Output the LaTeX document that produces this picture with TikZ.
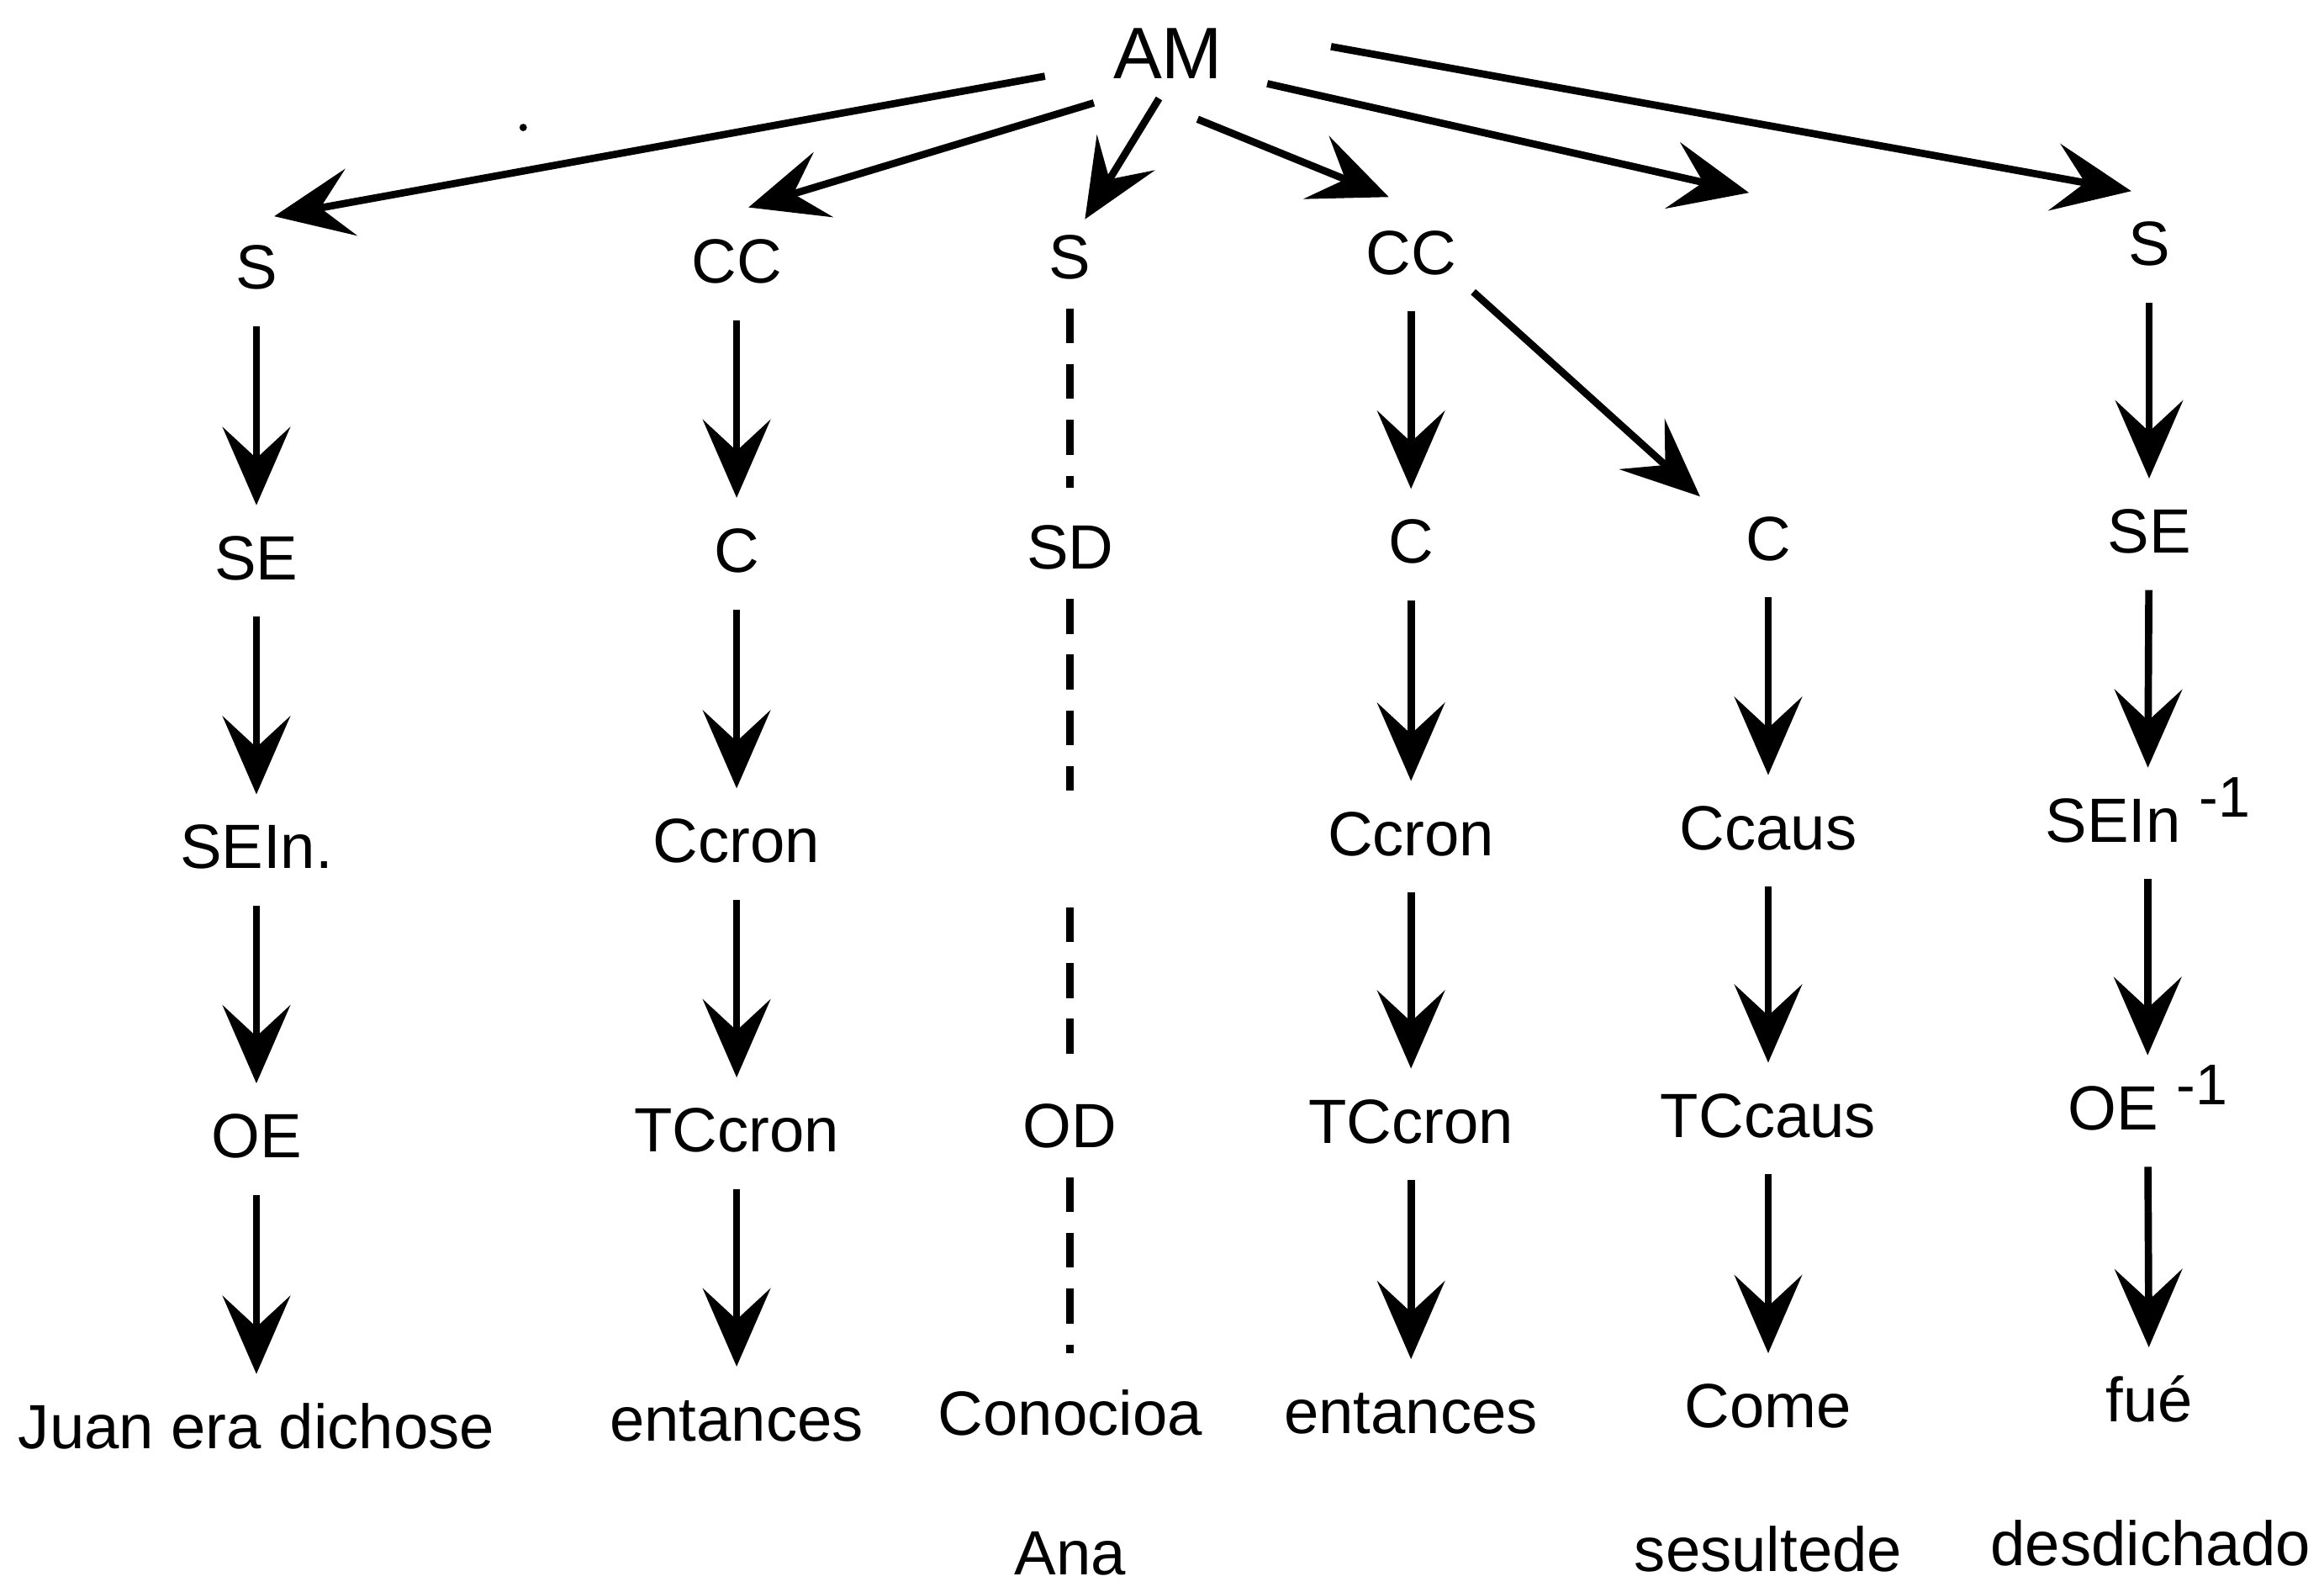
\documentclass[tikz,border=0pt]{standalone}
\usepackage{fontspec}
\setmainfont{Liberation Sans}
\usetikzlibrary{arrows.meta,calc}

\newcommand{\invsup}{\hspace{3.5pt}\raisebox{4.8pt}{\fontsize{11}{11}\selectfont -1}}

\tikzset{
  lbl/.style={anchor=base, inner sep=0pt, outer sep=0pt, text height=8.6pt, text depth=0pt, font=\fontsize{12}{14}\selectfont},
  arr/.style={-{Stealth[length=15pt,width=13pt,inset=6pt]}, line width=1.4pt},
  downarr/.style={arr, shorten <=0.25cm, shorten >=0.2cm},
  dashln/.style={line width=1.5pt, dash pattern=on 6.7pt off 4pt, shorten <=0.2cm, shorten >=0.25cm}
}

\begin{document}
\begin{tikzpicture}
    \useasboundingbox (0,0) rectangle (15.68,10.70);
    % Root
    \node[lbl, font=\fontsize{14}{16}\selectfont, text height=10pt] (am) at (7.88,10.17) {AM};
    \fill (3.53,9.84) circle (0.025);

    % Column 1
    \node[lbl] (s1) at (1.73,8.75) {S};
    \node[lbl] (se1) at (1.73,6.79) {SE};
    \node[lbl] (sein1) at (1.73,4.84) {SEIn.};
    \node[lbl] (oe1) at (1.73,2.89) {OE};
    \node[lbl] (juan) at (1.73,0.93) {Juan era dichose};
    \draw[downarr] (s1) -- (se1);
    \draw[downarr] (se1) -- (sein1);
    \draw[downarr] (sein1) -- (oe1);
    \draw[downarr] (oe1) -- (juan);

    % Column 2
    \node[lbl] (cc1) at (4.97,8.79) {CC};
    \node[lbl] (c1) at (4.97,6.84) {C};
    \node[lbl] (ccron1) at (4.97,4.88) {Ccron};
    \node[lbl] (tccron1) at (4.97,2.93) {TCcron};
    \node[lbl] (ent1) at (4.97,0.98) {entances};
    \draw[downarr] (cc1) -- (c1);
    \draw[downarr] (c1) -- (ccron1);
    \draw[downarr] (ccron1) -- (tccron1);
    \draw[downarr] (tccron1) -- (ent1);

    % Column 3 (dashed)
    \node[lbl] (s3) at (7.22,8.82) {S};
    \node[lbl] (sd) at (7.22,6.86) {SD};
    \node[lbl] (od) at (7.22,2.96) {OD};
    \node[lbl] (conoc) at (7.22,1.02) {Conocioa};
    \node[lbl] (ana) at (7.22,0.08) {Ana};
    \coordinate (sdend) at (7.22,5.37);
    \coordinate (odtop) at (7.22,4.58);
    \draw[dashln] (s3) -- (sd);
    \draw[dashln, shorten >=0pt] (sd) -- (sdend);
    \draw[dashln, shorten <=0pt] (odtop) -- (od);
    \draw[dashln] (od) -- (conoc);

    % Column 4
    \node[lbl] (cc2) at (9.52,8.85) {CC};
    \node[lbl] (c2) at (9.52,6.90) {C};
    \node[lbl] (ccron2) at (9.52,4.93) {Ccron};
    \node[lbl] (tccron2) at (9.52,2.99) {TCcron};
    \node[lbl] (ent2) at (9.52,1.03) {entances};
    \draw[downarr] (cc2) -- (c2);
    \draw[downarr] (c2) -- (ccron2);
    \draw[downarr] (ccron2) -- (tccron2);
    \draw[downarr] (tccron2) -- (ent2);

    % Column 5
    \node[lbl] (c3) at (11.93,6.92) {C};
    \node[lbl] (ccaus) at (11.93,4.97) {Ccaus};
    \node[lbl] (tccaus) at (11.93,3.03) {TCcaus};
    \node[lbl] (come) at (11.93,1.07) {Come};
    \node[lbl] (sesul) at (11.93,0.10) {sesultede};
    \draw[downarr] (c3) -- (ccaus);
    \draw[downarr] (ccaus) -- (tccaus);
    \draw[downarr] (tccaus) -- (come);
    \draw[arr] ($(cc2)+(0.42,-0.27)$) -- ($(c3)+(-0.46,0.28)$);

    % Column 6
    \node[lbl] (s6) at (14.50,8.91) {S};
    \node[lbl] (se6) at (14.50,6.97) {SE};
    \node[lbl] (sein6) at (14.49,5.02) {SEIn\invsup};
    \node[lbl] (oe6) at (14.49,3.08) {OE\invsup};
    \node[lbl] (fue) at (14.50,1.11) {fué};
    \node[lbl] (desd) at (14.51,0.14) {desdichado};
    \draw[downarr] (s6) -- (se6);
    \draw[downarr] (se6) -- (sein6);
    \draw[downarr] (sein6) -- (oe6);
    \draw[downarr] (oe6) -- (fue);

    % Arrows from the root
    \coordinate (cend) at (11.80,9.40);
    \draw[arr] ($(am)+(-0.83,-0.16)$) -- ($(s1)+(0.12,0.34)$);
    \draw[arr] ($(am)+(-0.50,-0.34)$) -- ($(cc1)+(0.08,0.36)$);
    \draw[arr] ($(am)+(-0.06,-0.31)$) -- ($(s3)+(0.10,0.25)$);
    \draw[arr] ($(am)+(0.20,-0.45)$) -- ($(cc2)+(-0.15,0.37)$);
    \draw[arr] ($(am)+(0.67,-0.21)$) -- (cend);
    \draw[arr] ($(am)+(1.10,0.04)$) -- ($(s6)+(-0.12,0.35)$);
\end{tikzpicture}
\end{document}
